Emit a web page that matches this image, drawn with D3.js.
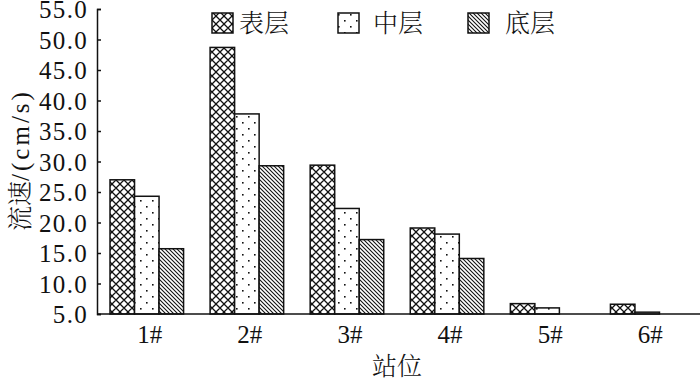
<!DOCTYPE html>
<html><head><meta charset="utf-8">
<script src="https://cdn.jsdelivr.net/npm/d3@7"></script>
<style>body{margin:0;background:#fff}svg{display:block}</style>
</head><body>
<script>
const categories = ["1#","2#","3#","4#","5#","6#"];
const seriesNames = ["表层","中层","底层"];
const surface = [27.0, 48.7, 29.4, 19.1, 6.7, 6.6];
const middle  = [24.3, 37.8, 22.3, 18.1, 6.0, 5.3];
const bottom  = [15.7, 29.3, 17.2, 14.1, null, null];
const yTicks = [5,10,15,20,25,30,35,40,45,50,55];

const SERIF = "'Liberation Serif', Tinos, 'Times New Roman', 'DejaVu Serif', serif";
const CJK = "'Noto Serif CJK SC', 'Noto Sans CJK SC', sans-serif";

const series = [surface, middle, bottom];
const W = 700, H = 381;
const svg = d3.select("body").append("svg").attr("width", W).attr("height", H);
const defs = svg.append("defs");

// patterns
const p0 = defs.append("pattern").attr("id","pat0").attr("patternUnits","userSpaceOnUse")
  .attr("width",8).attr("height",8);
p0.append("rect").attr("width",8).attr("height",8).attr("fill","#fff");
p0.append("path").attr("d","M0,0L8,8M8,0L0,8M-4,4L4,12M4,-4L12,4M-4,4L4,-4M4,12L12,4")
  .attr("stroke","#111").attr("stroke-width",1.3);
const p1 = defs.append("pattern").attr("id","pat1").attr("patternUnits","userSpaceOnUse")
  .attr("width",12).attr("height",12);
p1.append("rect").attr("width",12).attr("height",12).attr("fill","#fff");
p1.append("rect").attr("x",2).attr("y",2).attr("width",1.6).attr("height",1.6).attr("fill","#111");
p1.append("rect").attr("x",8).attr("y",8).attr("width",1.6).attr("height",1.6).attr("fill","#111");
const p2 = defs.append("pattern").attr("id","pat2").attr("patternUnits","userSpaceOnUse")
  .attr("width",4).attr("height",4);
p2.append("rect").attr("width",4).attr("height",4).attr("fill","#fff");
p2.append("path").attr("d","M-1,-1L5,5M-1,3L1,5M3,-1L5,1").attr("stroke","#111").attr("stroke-width",1.1);

const x0 = d3.scaleBand().domain(categories).range([97, 697]).paddingInner(0.265).paddingOuter(0.13);
const x1 = d3.scaleBand().domain(d3.range(3)).range([0, x0.bandwidth()]);
const y = d3.scaleLinear().domain([5, 55]).range([314, 9]);

const g = svg.append("g");
categories.forEach((c, i) => {
  series.forEach((s, j) => {
    const v = s[i];
    if (v == null || v <= 5) return;
    g.append("rect")
      .attr("x", x0(c) + x1(j))
      .attr("y", y(v))
      .attr("width", x1.bandwidth())
      .attr("height", y(5) - y(v))
      .attr("fill", `url(#pat${j})`)
      .attr("stroke", "#111").attr("stroke-width", 1.5);
  });
});

// y axis
const yAxis = d3.axisLeft(y).tickValues(yTicks).tickSize(-4).tickPadding(9).tickFormat(d3.format(".1f"));
const ya = svg.append("g").attr("transform","translate(97,0)").call(yAxis);
ya.attr("font-family", SERIF).attr("font-size", 25);
ya.select(".domain").attr("stroke","#111").attr("stroke-width",1.5);
ya.selectAll(".tick line").attr("stroke","#111").attr("stroke-width",1.5);
ya.selectAll("text").style("font-family", SERIF).style("font-size","25px")
  .style("letter-spacing","1.3px")
  .attr("fill","#111").attr("dy","0.34em");

// x axis
const xAxis = d3.axisBottom(x0).tickSize(0).tickPadding(11);
const xa = svg.append("g").attr("transform","translate(0,314)").call(xAxis);
xa.attr("font-family", SERIF).attr("font-size", 25);
xa.select(".domain").attr("d","M97,0H700").attr("stroke","#111").attr("stroke-width",1.5);
xa.selectAll("text").style("font-family", SERIF).style("font-size","25px").attr("fill","#111")
  .attr("dx", 3);

// axis titles
svg.append("text").attr("x", 397).attr("y", 375).attr("text-anchor","middle")
  .style("font-family", CJK).style("font-weight","300").style("font-size","25px").attr("fill","#111").text("站位");
const yt = svg.append("text").attr("transform","translate(29,160) rotate(-90)").attr("text-anchor","middle")
  .attr("fill","#111");
yt.append("tspan").style("font-family", CJK).style("font-weight","300").style("font-size","25px").text("流速");
yt.append("tspan").style("font-family", SERIF).style("font-size","25px").style("letter-spacing","3px").text("/(cm/s)");

// legend
const legX = [212, 338, 468];
const legTx = [239, 373, 505];
const leg = svg.append("g");
seriesNames.forEach((n, j) => {
  leg.append("rect").attr("x", legX[j]).attr("y", 13).attr("width", 21).attr("height", 20)
    .attr("fill", `url(#pat${j})`).attr("stroke","#111").attr("stroke-width",1.5);
  leg.append("text").attr("x", legTx[j]).attr("y", 32)
    .style("font-family", CJK).style("font-weight","300").style("font-size","25px").attr("fill","#111").text(n);
});
</script>
</body></html>
